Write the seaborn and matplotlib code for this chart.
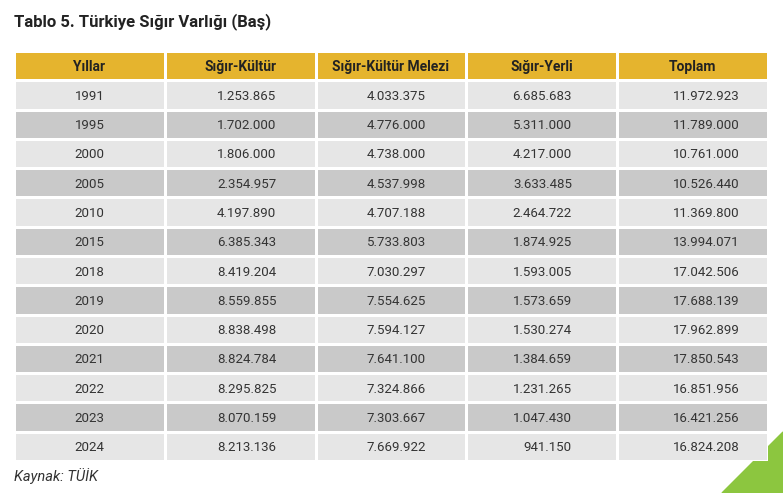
import numpy as np
import pandas as pd
import seaborn as sns
import matplotlib.pyplot as plt
from matplotlib.colors import ListedColormap
from matplotlib.patches import Polygon

title = "Tablo 5. Türkiye Sığır Varlığı (Baş)"
source = "Kaynak: TÜİK"
columns = ["Yıllar", "Sığır-Kültür", "Sığır-Kültür Melezi", "Sığır-Yerli", "Toplam"]
years = ["1991", "1995", "2000", "2005", "2010", "2015", "2018", "2019", "2020", "2021", "2022", "2023", "2024"]
kultur = ["1.253.865", "1.702.000", "1.806.000", "2.354.957", "4.197.890", "6.385.343", "8.419.204",
          "8.559.855", "8.838.498", "8.824.784", "8.295.825", "8.070.159", "8.213.136"]
melez = ["4.033.375", "4.776.000", "4.738.000", "4.537.998", "4.707.188", "5.733.803", "7.030.297",
         "7.554.625", "7.594.127", "7.641.100", "7.324.866", "7.303.667", "7.669.922"]
yerli = ["6.685.683", "5.311.000", "4.217.000", "3.633.485", "2.464.722", "1.874.925", "1.593.005",
         "1.573.659", "1.530.274", "1.384.659", "1.231.265", "1.047.430", "941.150"]
toplam = ["11.972.923", "11.789.000", "10.761.000", "10.526.440", "11.369.800", "13.994.071", "17.042.506",
          "17.688.139", "17.962.899", "17.850.543", "16.851.956", "16.421.256", "16.824.208"]

sns.set_theme(style="white", font="Roboto")
W, H = 783, 493
fig = plt.figure(figsize=(W / 100, H / 100), dpi=100)

n = len(years)
pattern = np.array([[2] * 5] + [[i % 2] * 5 for i in range(n)])
df = pd.DataFrame(pattern)
cmap = ListedColormap(["#e6e6e6", "#c9c9c9", "#e5b42e"])

x0, x1, y0, y1 = 14, 768, 51, 461
ax = fig.add_axes([x0 / W, 1 - y1 / H, (x1 - x0) / W, (y1 - y0) / H])
sns.heatmap(df, ax=ax, cmap=cmap, vmin=-0.5, vmax=2.5, cbar=False,
            linewidths=1.0, linecolor="white", xticklabels=False, yticklabels=False)
ax.set_xlabel(""); ax.set_ylabel("")

for j, c in enumerate(columns):
    ax.text(j + 0.5, 0.55, c, ha="center", va="center", fontsize=10, fontweight="bold", color="#222222")

offsets = [None, 0.26, 0.27, 0.30, 0.19]
data_cols = [years, kultur, melez, yerli, toplam]
for i in range(n):
    for j, col in enumerate(data_cols):
        if j == 0:
            ax.text(0.5, i + 1.55, col[i], ha="center", va="center", fontsize=9.5, color="#333333")
        else:
            ax.text(j + 1 - offsets[j], i + 1.55, col[i], ha="right", va="center", fontsize=9.5, color="#333333")

fig.text(14 / W, 1 - 22 / H, title, ha="left", va="center", fontsize=12, fontweight="bold", color="#222222")
fig.text(14 / W, 1 - 476 / H, source, ha="left", va="center", fontsize=10.5, style="italic", color="#333333")

bg = fig.add_axes([0, 0, 1, 1], zorder=-1)
bg.set_xlim(0, W); bg.set_ylim(H, 0); bg.axis("off")
bg.add_patch(Polygon([[722, 493], [783, 432], [783, 493]], closed=True, color="#8cc63f"))

fig.savefig("out.png", dpi=100)
